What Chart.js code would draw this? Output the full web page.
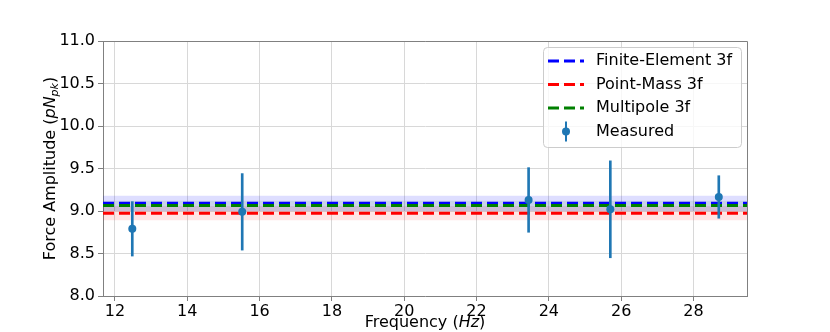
<!DOCTYPE html>
<html>
<head>
<meta charset="utf-8">
<script src="https://cdn.jsdelivr.net/npm/chart.js@4.4.1/dist/chart.umd.min.js"></script>
<style>
html, body { margin: 0; padding: 0; background: #fff; }
#wrap { width: 830px; height: 332px; }
</style>
</head>
<body>
<div id="wrap"><canvas id="force-chart" width="830" height="332"></canvas></div>
<script>
// measured points
var freqs = [12.48, 15.52, 23.44, 25.70, 28.70];
var measured = [8.79, 8.99, 9.13, 9.02, 9.165];
var measuredErr = [0.32, 0.45, 0.38, 0.57, 0.25];

// model predictions
var modelNames = ['Finite-Element 3f', 'Point-Mass 3f', 'Multipole 3f'];
var modelLevels = [9.09, 8.975, 9.065];
var modelBandLow = [9.00, 8.89, 9.00];
var modelBandHigh = [9.18, 9.06, 9.12];

var xTicks = [12, 14, 16, 18, 20, 22, 24, 26, 28];
var yTicks = [8.0, 8.5, 9.0, 9.5, 10.0, 10.5, 11.0];
var xMin = 11.67, xMax = 29.48;
var yMin = 8.0, yMax = 11.0;

var modelColours = ['#0000ff', '#ff0000', '#008000'];
var bandColours = ['rgba(0,0,255,0.13)', 'rgba(255,0,0,0.10)', 'rgba(0,128,0,0.10)'];
var lineOrder = [7, 6, 5]; // green ends up on top, like the reference
var pointColour = '#1f77b4';
var FONT = "'DejaVu Sans', sans-serif";

var datasets = [];

// shaded bands first, so they sit under everything
modelNames.forEach(function(name, i){
	datasets.push({
		type: 'line',
		label: name + ' hi',
		data: [{x: xMin, y: modelBandHigh[i]}, {x: xMax, y: modelBandHigh[i]}],
		borderWidth: 0,
		pointRadius: 0,
		fill: false,
		order: 20
	});
	datasets.push({
		type: 'line',
		label: name + ' lo',
		data: [{x: xMin, y: modelBandLow[i]}, {x: xMax, y: modelBandLow[i]}],
		borderWidth: 0,
		pointRadius: 0,
		fill: '-1',
		backgroundColor: bandColours[i],
		order: 20
	});
});

modelNames.forEach(function(name, i){
	datasets.push({
		type: 'line',
		label: name,
		data: [{x: xMin, y: modelLevels[i]}, {x: xMax, y: modelLevels[i]}],
		borderColor: modelColours[i],
		borderWidth: 3,
		borderDash: [11, 5],
		borderCapStyle: 'butt',
		pointRadius: 0,
		fill: false,
		order: lineOrder[i]
	});
});

// error bars as thin floating bars
datasets.push({
	type: 'bar',
	label: 'Measured err',
	data: freqs.map(function(f, i){
		return {x: f, y: [measured[i] - measuredErr[i], measured[i] + measuredErr[i]]};
	}),
	backgroundColor: pointColour,
	borderWidth: 0,
	barThickness: 2,
	grouped: false,
	order: 1
});

datasets.push({
	type: 'line',
	label: 'Measured',
	data: freqs.map(function(f, i){ return {x: f, y: measured[i]}; }),
	showLine: false,
	pointRadius: 4,
	pointHoverRadius: 4,
	pointBackgroundColor: pointColour,
	pointBorderColor: pointColour,
	pointBorderWidth: 0,
	order: 0
});

function drawRich(ctx, parts, x, y, rotate){
	var total = 0;
	parts.forEach(function(p){ ctx.font = p.f; total += ctx.measureText(p.t).width; });
	ctx.save();
	ctx.translate(x, y);
	if (rotate) ctx.rotate(-Math.PI / 2);
	ctx.fillStyle = '#000';
	ctx.textBaseline = 'middle';
	ctx.textAlign = 'left';
	var cx = -total / 2;
	parts.forEach(function(p){
		ctx.font = p.f;
		ctx.fillText(p.t, cx, p.dy || 0);
		cx += ctx.measureText(p.t).width;
	});
	ctx.restore();
}

var decorPlugin = {
	id: 'decor',
	afterDraw: function(chart){
		var ctx = chart.ctx;
		var a = chart.chartArea;

		// top and right spines
		ctx.save();
		ctx.strokeStyle = '#808080';
		ctx.lineWidth = 1;
		ctx.beginPath();
		ctx.moveTo(a.left, a.top + 0.5);
		ctx.lineTo(a.right + 0.5, a.top + 0.5);
		ctx.lineTo(a.right + 0.5, a.bottom);
		ctx.stroke();
		ctx.restore();

		// axis titles
		drawRich(ctx, [
			{t: 'Frequency (', f: '16px ' + FONT},
			{t: 'Hz', f: 'italic 16px ' + FONT},
			{t: ')', f: '16px ' + FONT}
		], (a.left + a.right) / 2, 323, false);
		drawRich(ctx, [
			{t: 'Force Amplitude (', f: '16px ' + FONT},
			{t: 'pN', f: 'italic 16px ' + FONT},
			{t: 'pk', f: 'italic 11px ' + FONT, dy: 4},
			{t: ')', f: '16px ' + FONT}
		], 51, (a.top + a.bottom) / 2, true);

		// legend box
		var bx = 543, by = 47, bw = 198, bh = 100;
		ctx.save();
		ctx.fillStyle = 'rgba(255,255,255,0.8)';
		ctx.strokeStyle = '#cccccc';
		ctx.lineWidth = 1;
		ctx.beginPath();
		ctx.roundRect(bx + 0.5, by + 0.5, bw, bh, 4);
		ctx.fill();
		ctx.stroke();

		var rows = [61, 84.5, 108, 131.5];
		modelNames.forEach(function(name, i){
			ctx.strokeStyle = modelColours[i];
			ctx.lineWidth = 3;
			ctx.setLineDash([11, 5]);
			ctx.beginPath();
			ctx.moveTo(548, rows[i]);
			ctx.lineTo(584, rows[i]);
			ctx.stroke();
		});
		ctx.setLineDash([]);
		ctx.strokeStyle = pointColour;
		ctx.lineWidth = 2;
		ctx.beginPath();
		ctx.moveTo(566, rows[3] - 10);
		ctx.lineTo(566, rows[3] + 10);
		ctx.stroke();
		ctx.fillStyle = pointColour;
		ctx.beginPath();
		ctx.arc(566, rows[3], 4, 0, Math.PI * 2);
		ctx.fill();

		ctx.fillStyle = '#000';
		ctx.font = '16px ' + FONT;
		ctx.textBaseline = 'middle';
		modelNames.concat(['Measured']).forEach(function(label, i){
			ctx.fillText(label, 596, rows[i]);
		});
		ctx.restore();
	}
};

var chartElem = document.getElementById('force-chart');

new Chart(chartElem, {
	type: 'line',
	data: { datasets: datasets },
	options: {
		responsive: false,
		animation: false,
		layout: { padding: { top: 41, right: 83, left: 0, bottom: 0 } },
		scales: {
			x: {
				type: 'linear',
				min: xMin,
				max: xMax,
				offset: false,
				afterBuildTicks: function(scale){
					scale.ticks = xTicks.map(function(v){ return {value: v}; });
				},
				afterFit: function(scale){ scale.height = 36; },
				grid: { color: '#d8d8d8', lineWidth: 1, tickColor: '#808080', tickLength: 5, offset: false },
				border: { color: '#808080', width: 1 },
				ticks: {
					color: '#000',
					padding: 1,
					maxRotation: 0,
					font: { family: FONT, size: 16 },
					callback: function(v){ return String(v); }
				}
			},
			y: {
				type: 'linear',
				min: yMin,
				max: yMax,
				beginAtZero: false,
				afterBuildTicks: function(scale){
					scale.ticks = yTicks.map(function(v){ return {value: v}; });
				},
				afterFit: function(scale){ scale.width = 103; },
				grid: { color: '#d8d8d8', lineWidth: 1, tickColor: '#808080', tickLength: 5 },
				border: { color: '#808080', width: 1 },
				ticks: {
					color: '#000',
					padding: 3,
					font: { family: FONT, size: 16 },
					callback: function(v){ return Number(v).toFixed(1); }
				}
			}
		},
		plugins: {
			legend: { display: false },
			tooltip: { enabled: false }
		}
	},
	plugins: [decorPlugin]
});
</script>
</body>
</html>
